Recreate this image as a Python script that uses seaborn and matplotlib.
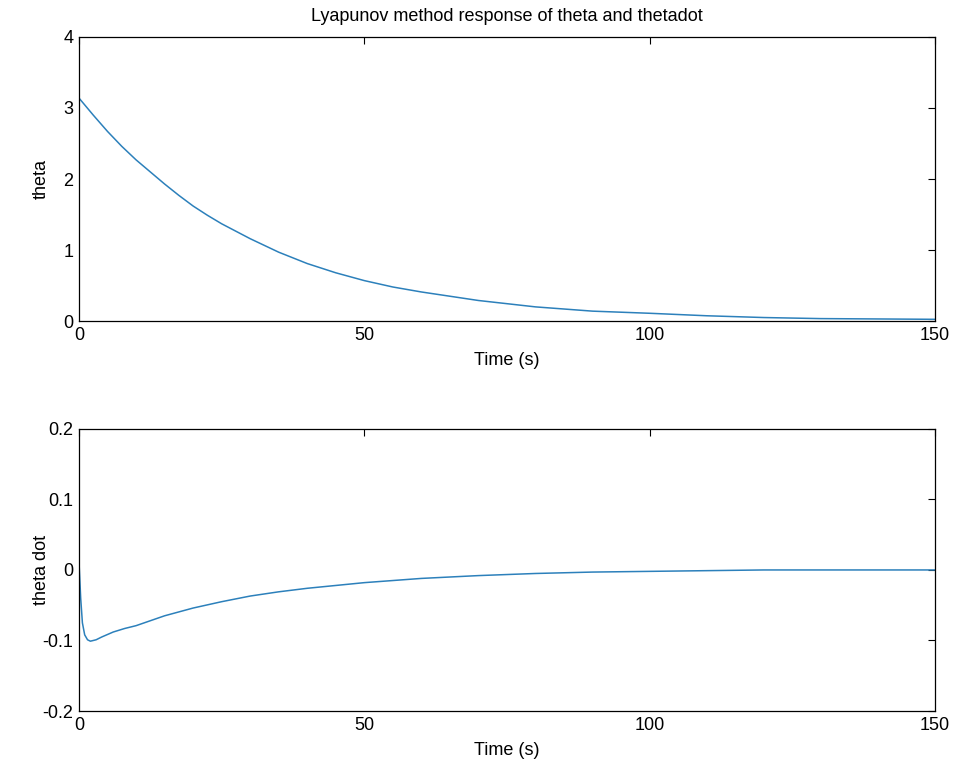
import matplotlib
matplotlib.use("Agg")
import matplotlib.pyplot as plt
import seaborn as sns
import pandas as pd

# Angle response theta (rad) over time
t_theta = [0, 2.5, 5, 7.5, 10, 12.5, 15, 17.5, 20, 22.5, 25, 30, 35, 40, 45,
           50, 55, 60, 70, 80, 90, 100, 110, 120, 130, 140, 150]
theta = [3.14, 2.90, 2.67, 2.46, 2.27, 2.10, 1.93, 1.77, 1.62, 1.49, 1.37,
         1.16, 0.97, 0.81, 0.68, 0.57, 0.48, 0.41, 0.29, 0.20, 0.14, 0.11,
         0.075, 0.05, 0.035, 0.03, 0.025]

# Angular rate response theta dot over time
t_thetadot = [0, 0.3, 0.6, 1.0, 1.5, 2, 3, 4, 6, 8, 10, 15, 20, 25, 30, 35,
              40, 50, 60, 70, 80, 90, 100, 110, 120, 130, 140, 150]
thetadot = [0.012, -0.04, -0.075, -0.092, -0.099, -0.101, -0.099, -0.095,
            -0.088, -0.083, -0.079, -0.065, -0.054, -0.045, -0.037, -0.031,
            -0.026, -0.018, -0.012, -0.008, -0.005, -0.003, -0.002, -0.001,
            0.0, 0.0, 0.0, 0.0]

x_ticks = [0, 50, 100, 150]
theta_ticks = [0, 1, 2, 3, 4]
thetadot_ticks = [-0.2, -0.1, 0, 0.1, 0.2]
thetadot_ticklabels = ["-0.2", "-0.1", "0", "0.1", "0.2"]

sns.set_style("white")
plt.rcParams["font.family"] = ["Liberation Sans", "DejaVu Sans"]
plt.rcParams["text.color"] = "black"
plt.rcParams["axes.labelcolor"] = "black"

line_color = "#2c80bb"
tick_fs = 13
label_fs = 13

df_theta = pd.DataFrame({"t": t_theta, "theta": theta})
df_dot = pd.DataFrame({"t": t_thetadot, "thetadot": thetadot})

fig = plt.figure(figsize=(9.55, 7.7), dpi=100)
ax1 = fig.add_axes([0.0827, 0.583, 0.8963, 0.369])
ax2 = fig.add_axes([0.0827, 0.0766, 0.8963, 0.3664])

sns.lineplot(data=df_theta, x="t", y="theta", ax=ax1, color=line_color, linewidth=1.1)
sns.lineplot(data=df_dot, x="t", y="thetadot", ax=ax2, color=line_color, linewidth=1.1)

for ax in (ax1, ax2):
    ax.set_xlim(0, 150)
    ax.set_xticks(x_ticks)
    ax.set_xticklabels([str(v) for v in x_ticks])
    ax.tick_params(direction="in", length=5, width=0.8, top=True, right=True,
                   labelsize=tick_fs, colors="black")
    ax.tick_params(axis="x", pad=4)
    ax.tick_params(axis="y", pad=4)
    for s in ax.spines.values():
        s.set_color("black")
        s.set_linewidth(0.9)
    ax.set_xlabel("Time (s)", fontsize=label_fs, labelpad=6)
    ax.yaxis.set_label_coords(-0.034, 0.5)

ax1.set_ylim(0, 4)
ax1.set_yticks(theta_ticks)
ax1.set_yticklabels([str(v) for v in theta_ticks])
ax1.set_ylabel("theta", fontsize=label_fs)
ax1.set_title("Lyapunov method response of theta and thetadot", fontsize=label_fs, pad=11.5)

ax2.set_ylim(-0.2, 0.2)
ax2.set_yticks(thetadot_ticks)
ax2.set_yticklabels(thetadot_ticklabels)
ax2.set_ylabel("theta dot", fontsize=label_fs)

fig.savefig("out.png", dpi=100)
